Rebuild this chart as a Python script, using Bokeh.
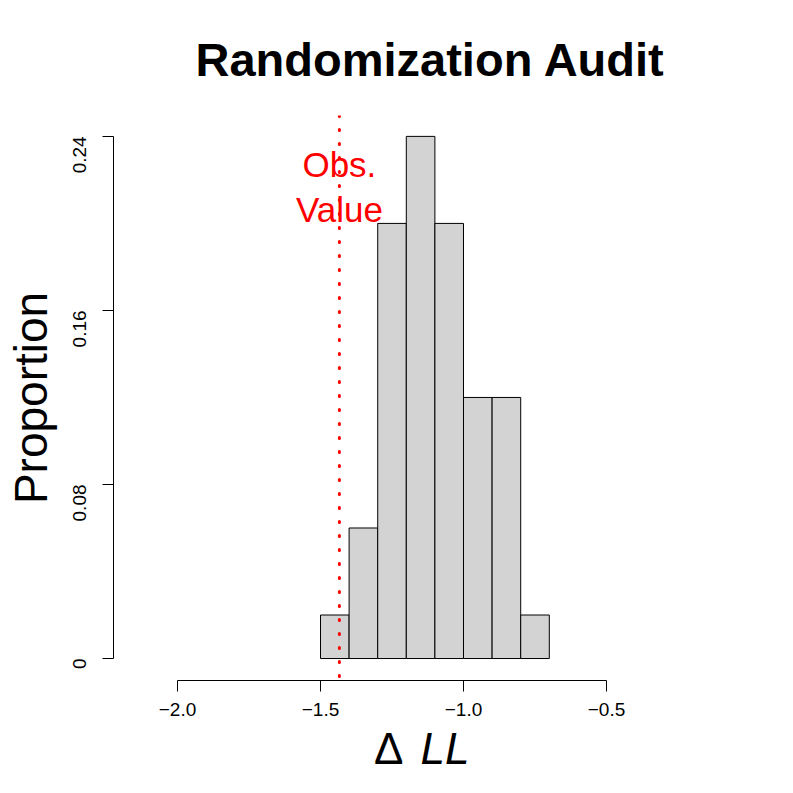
import math
from bokeh.plotting import figure
from bokeh.layouts import column
from bokeh.models import Range1d, Span, FixedTicker
from bokeh.core.properties import value
from bokeh.embed import file_html
from bokeh.resources import INLINE

# ---- data ----
bin_edges = [-1.5, -1.4, -1.3, -1.2, -1.1, -1.0, -0.9, -0.8, -0.7]
proportions = [0.02, 0.06, 0.20, 0.24, 0.20, 0.12, 0.12, 0.02]
obs_value = -1.434
obs_label = "Obs.\nValue"
obs_label_y = 0.2167
x_ticks = [-2.0, -1.5, -1.0, -0.5]
x_tick_labels = ["\u22122.0", "\u22121.5", "\u22121.0", "\u22120.5"]
y_ticks = [0.0, 0.08, 0.16, 0.24]
y_tick_labels = ["0", "0.08", "0.16", "0.24"]
title_text = "Randomization Audit"
y_label = "Proportion"
x_label_delta = "\u0394"
x_label_ll = "LL"

FONT = "Liberation Sans"
W = 777
H_MAIN = 723
H_LABEL = 54

x_range = Range1d(-2.2238, -0.007)
p = figure(width=W, height=H_MAIN, output_backend="svg", toolbar_location=None,
           x_range=x_range, y_range=Range1d(-0.0101, 0.2496),
           min_border_left=113, min_border_right=30, min_border_top=113,
           min_border_bottom=43)
p.outline_line_color = None
p.grid.visible = False
p.background_fill_color = "white"
p.border_fill_color = "white"

# title
p.title.text = title_text
p.title.text_font = FONT
p.title.text_font_size = "47px"
p.title.text_font_style = "bold"
p.title.text_color = "black"
p.title.align = "center"
p.title.standoff = 60

# bars
p.quad(left=bin_edges[:-1], right=bin_edges[1:], top=proportions, bottom=0,
       fill_color="#D3D3D3", line_color="black", line_width=1)

# observed value line
p.add_layout(Span(location=obs_value, dimension="height", line_color="#FF0000",
                  line_width=3, line_dash="1 13", line_cap="round"))
p.text(x=[obs_value], y=[obs_label_y], text=[obs_label], text_align="center",
       text_baseline="middle", text_color="#FF0000", text_font=value(FONT),
       text_font_size="35px", text_line_height=1.15)

# axes
xa = p.xaxis[0]
xa.ticker = FixedTicker(ticks=x_ticks)
xa.major_label_overrides = {t: l for t, l in zip(x_ticks, x_tick_labels)}
xa.bounds = (x_ticks[0], x_ticks[-1])
ya = p.yaxis[0]
ya.ticker = FixedTicker(ticks=y_ticks)
ya.major_label_overrides = {t: l for t, l in zip(y_ticks, y_tick_labels)}
ya.bounds = (y_ticks[0], y_ticks[-1])
ya.major_label_orientation = math.pi / 2
for ax in (xa, ya):
    ax.major_tick_out = 11
    ax.major_tick_in = 0
    ax.minor_tick_out = 0
    ax.minor_tick_in = 0
    ax.axis_line_color = "black"
    ax.major_tick_line_color = "black"
    ax.major_label_text_font = FONT
    ax.major_label_text_font_size = "19px"
    ax.major_label_text_color = "black"
xa.major_label_standoff = 11
ya.major_label_standoff = 23
ya.axis_label = y_label
ya.axis_label_text_font = FONT
ya.axis_label_text_font_size = "46px"
ya.axis_label_text_font_style = "normal"
ya.axis_label_text_color = "black"
ya.axis_label_standoff = 7

# x label strip: upright delta and italic LL
q = figure(width=W, height=H_LABEL, output_backend="svg", toolbar_location=None,
           title=None, x_axis_location=None, y_axis_location=None,
           x_range=x_range, y_range=Range1d(0, 1),
           min_border_left=113, min_border_right=30, min_border_top=0,
           min_border_bottom=0, min_border=0)
q.grid.visible = False
q.outline_line_color = None
q.background_fill_color = "white"
q.border_fill_color = "white"
xc = (x_range.start + x_range.end) / 2
q.text(x=[xc], y=[0.537], text=[x_label_delta], x_offset=-27, text_align="right",
       text_baseline="middle", text_font=value(FONT), text_font_size="44px",
       text_color="black")
q.text(x=[xc], y=[0.537], text=[x_label_ll], x_offset=-10, text_align="left",
       text_baseline="middle", text_font=value(FONT), text_font_size="44px",
       text_font_style="italic", text_color="black")

layout = column(p, q, spacing=0)
open("out.html", "w").write(file_html(layout, INLINE))
